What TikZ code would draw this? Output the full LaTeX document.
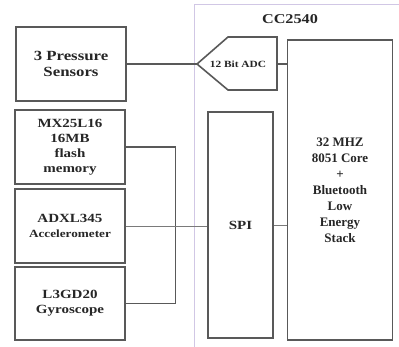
\documentclass[tikz,border=0pt]{standalone}
\usepackage{fontspec}
\setmainfont{Liberation Serif}
\newfontfamily\widefont{Liberation Serif}[FakeStretch=1.2]
\usepackage{tikz}
\usetikzlibrary{calc}
\definecolor{boxgray}{rgb}{0.35, 0.35, 0.35}
\definecolor{chipline}{rgb}{0.82, 0.78, 0.90}
\tikzset{
  blk/.style={draw=boxgray, line width=1.6pt, inner sep=0pt, align=center,
    font=\widefont\bfseries\fontsize{12.5}{15}\selectfont, text=black!85},
  wire/.style={draw=boxgray, line width=1.3pt}
}

\begin{document}
\begin{tikzpicture}[x=1pt, y=-1pt]
    % Cadre de la page
    \useasboundingbox (0,0) rectangle (399,347);
    \clip (0,0) rectangle (399,347);
    
    % Puce CC2540
    \draw[chipline, line width=1pt] (194,420) -- (194,5) -- (420,5);
    \node[font=\widefont\bfseries\fontsize{13.5}{16}\selectfont, text=black!85] (chip) at (290,19) {CC2540};
    
    % Capteurs et memoire
    \node[blk, minimum width=110pt, minimum height=74pt, font=\widefont\bfseries\fontsize{14}{16}\selectfont] (pres) at (71,64) {3 Pressure\\Sensors};
    \node[blk, minimum width=110pt, minimum height=74pt] (flash) at (70,147) {MX25L16\\16MB\\flash\\memory};
    \node[blk, minimum width=110pt, minimum height=74pt] (accel) at (70,226) {ADXL345\\{\fontsize{11}{14}\selectfont Accelerometer}};
    \node[blk, minimum width=110pt, minimum height=73pt] (gyro) at (70,303.5) {L3GD20\\Gyroscope};
    
    % Blocs internes
    \node[blk, minimum width=65pt, minimum height=226pt] (spi) at (240.5,225) {SPI};
    \node[blk, minimum width=105pt, minimum height=300pt, font=\bfseries\fontsize{13}{16}\selectfont] (core) at (340,190) {32 MHZ\\8051 Core\\+\\Bluetooth\\Low\\Energy\\Stack};
    
    % Convertisseur ADC
    \coordinate (adctip) at (197,64);
    \coordinate (adcR) at (277,64);
    \draw[boxgray, line width=1.6pt] (adctip) -- (228,37) -- (277,37) -- (277,90) -- (228,90) -- cycle;
    \node[font=\widefont\bfseries\fontsize{9.5}{10}\selectfont, text=black!85] (adc) at (238,64) {12 Bit ADC};
    
    % Liaisons
    \draw[wire] (pres.east) -- (adctip);
    \draw[wire] (adcR) -- (adcR -| core.west);
    \draw[wire] (flash.east) -- ++(50,0) |- (gyro.east);
    \draw[wire, line width=0.8pt, boxgray!80] (accel.east) -- (accel.east -| spi.west);
    \draw[wire, line width=0.8pt, boxgray!80] (spi.east) -- (spi.east -| core.west);

\end{tikzpicture}
\end{document}
